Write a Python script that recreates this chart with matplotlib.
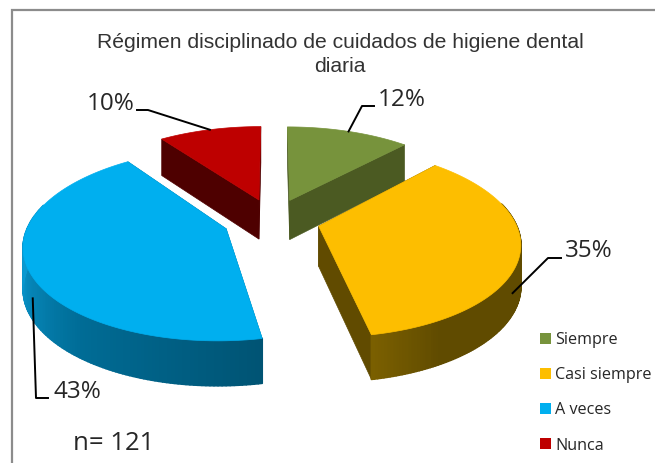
import matplotlib
matplotlib.use('Agg')
import matplotlib.pyplot as plt
import numpy as np
from matplotlib.collections import PolyCollection
from matplotlib.colors import LinearSegmentedColormap
from matplotlib.patches import Patch

# datos
categorias = ['Siempre', 'Casi siempre', 'A veces', 'Nunca']
porcentajes = [12, 35, 43, 10]
n_total = 121

# colores
col_tapa = ['#77933C', '#FDBE00', '#00AFEF', '#BE0000']
col_cara = ['#4B5A22', '#614B00', '#006A90', '#4E0000']
col_lado = [
    ['#4B5A22', '#4B5A22'],
    ['#7A5F00', '#604B00', '#604B00', '#604B00', '#604B00', '#5E4A00', '#5E4A00', '#6F5700'],
    ['#005474', '#006C96', '#0A99D0'],
    ['#4E0000', '#4E0000'],
]

# camara del pastel 3d (en pixeles de la imagen)
cx, cy = 273, 220
A, B = 196, 91
k = 0.16
expl = 0.24
alto = 40
ajuste_x = [0, 0, -3, 0]  # la porcion azul queda un poco mas a la izquierda


def proyecta(u, v, z=0.0):
    s = 1 / (1 - k * v)
    return cx + A * u * s, cy + B * v * s + z * alto * s ** 0.6


fig = plt.figure(figsize=(6.55, 4.63), dpi=100)
ax = fig.add_axes([0, 0, 1, 1])
ax.set_xlim(0, 655)
ax.set_ylim(463, 0)
ax.axis('off')

# marco (solo arriba e izquierda, el recorte corta los otros)
ax.plot([12, 12, 655], [463, 10, 10], color='#8C8C8C', lw=1.6, solid_joinstyle='miter')

limites = np.cumsum([0] + porcentajes) * 3.6
centros = []
for i in range(len(porcentajes)):
    t0, t1 = np.radians(limites[i]), np.radians(limites[i + 1])
    tm = (t0 + t1) / 2
    ou, ov = expl * np.sin(tm), -expl * np.cos(tm)
    centros.append((ou, ov, tm))
    t = np.linspace(t0, t1, 160)
    u = ou + np.sin(t)
    v = ov - np.cos(t)
    x, y = proyecta(u, v)
    xb, yb = proyecta(u, v, 1.0)
    ax0, ay0 = proyecta(ou, ov)
    ax1, ay1 = proyecta(ou, ov, 1.0)
    dx = ajuste_x[i]
    x, xb, ax0, ax1 = x + dx, xb + dx, ax0 + dx, ax1 + dx

    # caras rectas interiores
    for j in (0, -1):
        cara = [(ax0, ay0), (x[j], y[j]), (xb[j], yb[j]), (ax1, ay1)]
        ax.fill(*zip(*cara), color=col_cara[i], lw=0.5, zorder=2 + i)

    # pared curva con degradado
    cmap = LinearSegmentedColormap.from_list('lado', col_lado[i])
    quads = [[(x[j], y[j]), (x[j + 1], y[j + 1]), (xb[j + 1], yb[j + 1]), (xb[j], yb[j])]
             for j in range(len(t) - 1)]
    # solo interesa la parte frontal del arco
    frente = np.cos(t[:-1]) < 0.25
    fr = (t[:-1] - t[:-1].min()) / max(t[:-1].max() - t[:-1].min(), 1e-6)
    if i == 2:
        fr = np.clip((t[:-1] - t0) / np.radians(95), 0, 1)
    elif i == 1:
        fr = 1 - fr
    colores = [cmap(f) for f in fr]
    pc = PolyCollection([q for q, f in zip(quads, frente) if f],
                        facecolors=[c for c, f in zip(colores, frente) if f],
                        edgecolors=[c for c, f in zip(colores, frente) if f],
                        linewidths=1.2, zorder=2 + i)
    ax.add_collection(pc)

    # tapa
    ax.fill(np.r_[ax0, x], np.r_[ay0, y], color=col_tapa[i], lw=0.5, zorder=3 + i)

# etiquetas con linea guia: codo y posicion del texto
codos = [(362, 106, 374), (548, 258, 561), (36, 398, 48), (148, 110, 137)]
textos = [(378, 100.5), (565, 251), (53, 392), (87, 104)]
z_guia = [0.0, 0.5, 0.5, 0.0]
giro_guia = [0, 11, -5, 0]
for i, p in enumerate(porcentajes):
    ou, ov, tm = centros[i]
    tg = tm + np.radians(giro_guia[i])
    x0, y0 = proyecta(ou + np.sin(tg), ov - np.cos(tg), z_guia[i])
    ex, ey, fx = codos[i]
    ax.plot([x0 + ajuste_x[i], ex, fx], [y0, ey, ey], color='black', lw=1.4, zorder=10,
            solid_joinstyle='round')
    ax.text(textos[i][0], textos[i][1], f'{p}%', fontsize=17.5, family='Open Sans',
            color='#262626', ha='left', va='center', zorder=11)

# titulo
ax.text(340, 41, 'Régimen disciplinado de cuidados de higiene dental',
        fontsize=15.2, family='Liberation Sans', color='#333333', ha='center', va='center_baseline')
ax.text(340, 65, 'diaria', fontsize=15.2, family='Liberation Sans', color='#333333',
        ha='center', va='center_baseline')

ax.text(73, 444, f'n= {n_total}', fontsize=18.5, family='Open Sans', color='#262626',
        ha='left', va='center')

# leyenda
handles = [Patch(facecolor=c, edgecolor='none') for c in col_tapa]
ax.legend(handles, categorias, loc='upper left', bbox_to_anchor=(540 / 655, 1 - 332 / 463),
          frameon=False, prop={'family': 'Open Sans', 'size': 11.6},
          handlelength=0.68, handleheight=0.68, handletextpad=0.25, labelspacing=1.19,
          borderpad=0, borderaxespad=0, labelcolor='#262626')

fig.savefig('out.png', dpi=100)
